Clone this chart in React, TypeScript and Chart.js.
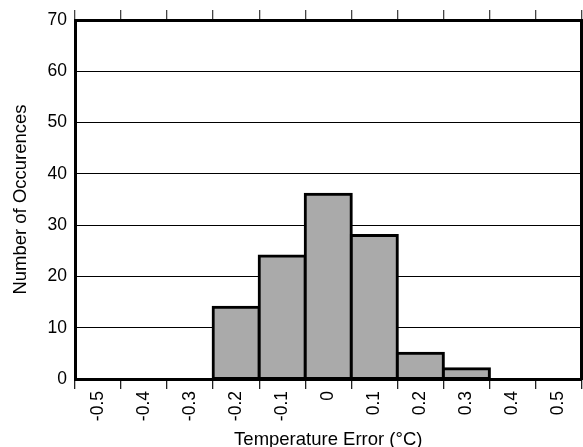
import { useEffect, useRef } from "react";
import { Chart, registerables } from "chart.js";

Chart.register(...registerables);

// Histogram bins (°C) and counts
const BIN_LABELS = ["-0.5", "-0.4", "-0.3", "-0.2", "-0.1", "0", "0.1", "0.2", "0.3", "0.4", "0.5"];
const OCCURRENCES = [0, 0, 0, 14, 24, 36, 28, 5, 2, 0, 0];
const Y_MIN = 0;
const Y_MAX = 70;
const Y_STEP = 10;

const FONT = "'Liberation Sans', Arial, Helvetica, sans-serif";

export default function App() {
  const canvasRef = useRef<HTMLCanvasElement>(null);

  useEffect(() => {
    const canvas = canvasRef.current;
    if (!canvas) return;

    Chart.defaults.font.family = FONT;

    const chart = new Chart(canvas, {
      type: "bar",
      data: {
        labels: BIN_LABELS,
        datasets: [
          {
            data: OCCURRENCES,
            backgroundColor: "#aaaaaa",
            borderColor: "#000000",
            borderWidth: 3,
            borderSkipped: false,
            inflateAmount: 1.5,
            categoryPercentage: 1,
            barPercentage: 1,
            xAxisID: "x",
            yAxisID: "y",
          },
        ],
      },
      options: {
        responsive: false,
        animation: false,
        layout: { padding: { top: 10, right: 1.5, left: 0, bottom: 0 } },
        plugins: {
          legend: { display: false },
          tooltip: { enabled: false },
        },
        scales: {
          x: {
            type: "category",
            position: "bottom",
            offset: true,
            z: 1,
            grid: {
              offset: true,
              drawOnChartArea: false,
              drawTicks: true,
              tickLength: 10,
              tickColor: "#222222",
              tickWidth: 1.3,
              lineWidth: 1.3,
            },
            border: { display: true, width: 3, color: "#000000" },
            ticks: {
              autoSkip: false,
              minRotation: 90,
              maxRotation: 90,
              padding: 2,
              color: "#000000",
              font: { size: 17.5 },
            },
            title: {
              display: true,
              text: "Temperature Error (°C)",
              color: "#000000",
              font: { size: 18.5, lineHeight: 1 },
              padding: { top: 0, bottom: -2 },
            },
            afterFit: (s) => {
              s.height = 68;
            },
          },
          x2: {
            type: "category",
            position: "top",
            offset: true,
            z: 1,
            grid: {
              offset: true,
              drawOnChartArea: false,
              drawTicks: true,
              tickLength: 10,
              tickColor: "#444444",
              tickWidth: 1.3,
              lineWidth: 1.3,
            },
            border: { display: true, width: 3, color: "#000000" },
            ticks: { display: false },
            afterFit: (s) => {
              s.height = 10;
            },
          },
          y: {
            position: "left",
            min: Y_MIN,
            max: Y_MAX,
            ticks: {
              stepSize: Y_STEP,
              padding: 8,
              color: "#000000",
              font: { size: 17.5 },
            },
            grid: { color: "#000000", lineWidth: 1, drawTicks: false },
            border: { display: true, width: 3, color: "#000000" },
            title: {
              display: true,
              text: "Number of Occurences",
              color: "#000000",
              font: { size: 18.5, lineHeight: 1 },
              padding: { top: 12, bottom: 0 },
            },
            afterFit: (s) => {
              s.width = 75;
            },
          },
          y2: {
            position: "right",
            min: Y_MIN,
            max: Y_MAX,
            ticks: { display: false },
            grid: { drawOnChartArea: false, drawTicks: false },
            border: { display: true, width: 3, color: "#000000" },
            afterFit: (s) => {
              s.width = 0;
            },
          },
        },
      },
    });

    return () => {
      chart.destroy();
    };
  }, []);

  return (
    <div style={{ position: "absolute", left: 0, top: 0, width: 583, height: 447 }}>
      <canvas ref={canvasRef} width={583} height={447} />
    </div>
  );
}
